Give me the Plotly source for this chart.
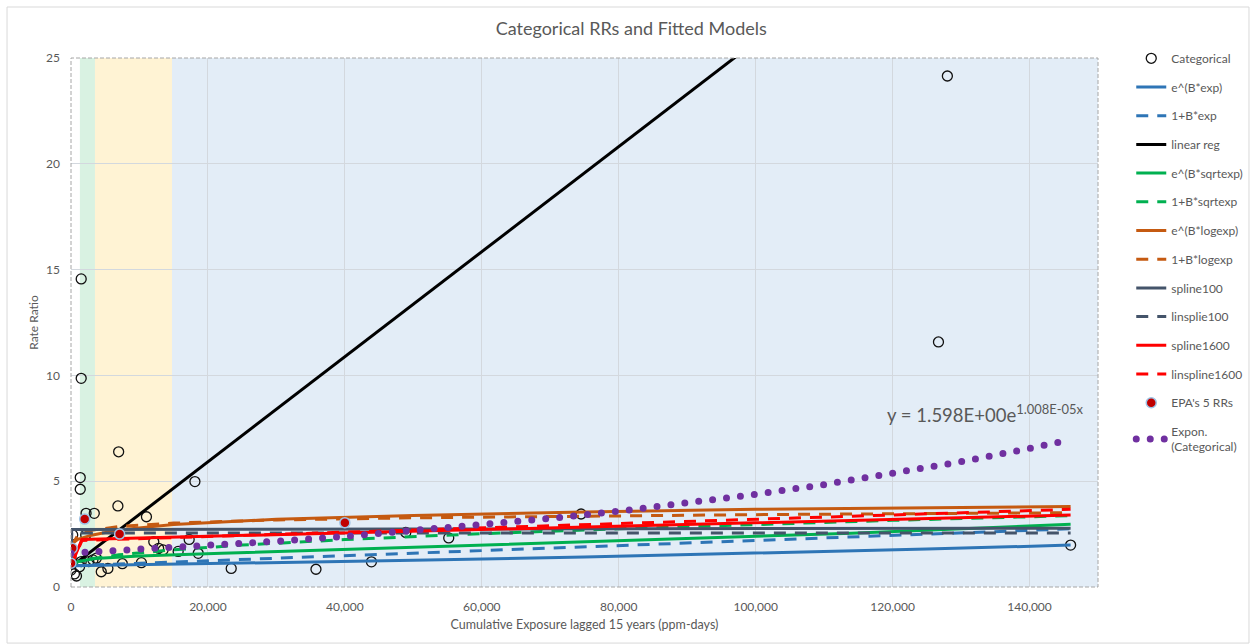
import plotly.graph_objects as go

# ---------------- data ----------------
cat_x = [1490, 1490, 1350, 1350, 6960, 6850, 11020, 18100, 2200, 3400,
         250, 2150, 12090, 17260, 13450, 12800, 15650, 18580, 0, 0, 0, 500,
         1250, 2600, 3700, 4420, 5390, 7500, 10280, 23400, 35780, 43880,
         48900, 55170, 74500, 146000, 128000, 126700, 1500, 3200, 800, 0]
cat_y = [14.56, 9.86, 5.17, 4.62, 6.39, 3.83, 3.32, 4.98, 3.48, 3.48,
         2.46, 2.46, 2.14, 2.25, 1.75, 1.83, 1.68, 1.59, 1.83, 1.36, 0.80, 0.62,
         0.96, 1.20, 1.36, 0.72, 0.88, 1.10, 1.15, 0.88, 0.84, 1.19,
         2.58, 2.32, 3.45, 1.98, 24.15, 11.58, 1.20, 1.28, 0.52, 1.09]

e_exp_x = [0, 25000, 50000, 75000, 100000, 125000, 146000]
e_exp_y = [1.00, 1.12, 1.26, 1.42, 1.60, 1.79, 1.98]

lin_exp_x = [0, 146000]
lin_exp_y = [1.00, 2.75]

linreg_x = [0, 146000]
linreg_y = [0.95, 37.2]

e_sqrt_x = [0, 1000, 3500, 10000, 22000, 51000, 80000, 114000, 146000]
e_sqrt_y = [1.00, 1.20, 1.35, 1.47, 1.59, 1.90, 2.20, 2.54, 2.96]

lin_sqrt_x = [0, 1000, 3000, 7000, 15000, 25000, 40000, 60000, 80000, 100000, 120000, 146000]
lin_sqrt_y = [1.00, 1.20, 1.34, 1.52, 1.76, 1.98, 2.24, 2.52, 2.75, 2.96, 3.15, 3.37]

e_log_x = [0, 1000, 3000, 7000, 15000, 30000, 50000, 75000, 100000, 125000, 146000]
e_log_y = [2.00, 2.25, 2.45, 2.70, 2.95, 3.20, 3.38, 3.55, 3.67, 3.75, 3.80]

lin_log_x = [0, 1000, 3000, 7000, 15000, 30000, 50000, 75000, 100000, 125000, 146000]
lin_log_y = [1.90, 2.45, 2.68, 2.86, 3.02, 3.17, 3.27, 3.36, 3.42, 3.47, 3.51]

spl100_x = [0, 100, 50000, 100000, 146000]
spl100_y = [1.00, 2.72, 2.74, 2.76, 2.78]

linspl100_x = [0, 100, 146000]
linspl100_y = [1.00, 2.55, 2.55]

spl1600_x = [0, 1600, 146000]
spl1600_y = [1.00, 2.25, 3.40]

linspl1600_x = [0, 1600, 146000]
linspl1600_y = [1.00, 2.20, 3.67]

epa_x = [0, 175, 2000, 7100, 40000]
epa_y = [1.12, 1.83, 3.21, 2.50, 3.04]

trend_x = [0, 10000, 20000, 30000, 40000, 50000, 60000, 70000, 80000, 90000,
           100000, 110000, 120000, 130000, 140000, 146000]
trend_y = [1.60, 1.77, 1.95, 2.16, 2.39, 2.65, 2.93, 3.24, 3.58, 3.96,
           4.38, 4.84, 5.36, 5.92, 6.55, 6.96]

bands = [(1300, 3500, "#d9f2e2"), (3500, 14750, "#fff3d4"), (14750, 150000, "#e3edf7")]

# ---------------- figure ----------------
FONT = "Lato"
GRAY = "#595959"

fig = go.Figure()

def add(name, x, y, color, dash="solid", width=3):
    fig.add_trace(go.Scatter(x=x, y=y, mode="lines", name=name,
                             line=dict(color=color, width=width, dash=dash),
                             legendgroup=name))

fig.add_trace(go.Scatter(x=cat_x, y=cat_y, mode="markers", name="Categorical",
                         marker=dict(symbol="circle-open", size=10, color="#111111",
                                     line=dict(width=1.3, color="#111111")),
                         legendgroup="Categorical"))
DASH = "12px,9px"
add("e^(B*exp)", e_exp_x, e_exp_y, "#2E75B6")
add("1+B*exp", lin_exp_x, lin_exp_y, "#2E75B6", DASH)
add("linear reg", linreg_x, linreg_y, "#000000")
add("e^(B*sqrtexp)", e_sqrt_x, e_sqrt_y, "#00B050")
add("1+B*sqrtexp", lin_sqrt_x, lin_sqrt_y, "#00B050", DASH)
add("e^(B*logexp)", e_log_x, e_log_y, "#C55A11")
add("1+B*logexp", lin_log_x, lin_log_y, "#C55A11", DASH)
add("spline100", spl100_x, spl100_y, "#44546A")
add("linsplie100", linspl100_x, linspl100_y, "#44546A", DASH)
add("spline1600", spl1600_x, spl1600_y, "#FF0000")
add("linspline1600", linspl1600_x, linspl1600_y, "#FF0000", DASH)
fig.add_trace(go.Scatter(x=epa_x, y=epa_y, mode="markers", name="EPA's 5 RRs",
                         marker=dict(symbol="circle", size=10, color="#C00000",
                                     line=dict(width=1.5, color="#9DC3E6")),
                         legendgroup="EPA"))
fig.add_trace(go.Scatter(x=trend_x, y=trend_y, mode="lines", name="Expon.<br>(Categorical)",
                         line=dict(color="#7030A0", width=7, dash="7px,7px"),
                         legendgroup="trend"))

shapes = []
for x0, x1, c in bands:
    shapes.append(dict(type="rect", xref="x", yref="paper", x0=x0, x1=x1, y0=0, y1=1,
                       fillcolor=c, line=dict(width=0), layer="below"))
shapes.append(dict(type="rect", xref="paper", yref="paper", x0=0, x1=1, y0=0, y1=1,
                   line=dict(color="#A6A6A6", width=1, dash="4px,2px"), layer="above"))
shapes.append(dict(type="rect", xref="paper", yref="paper", x0=-0.0623, x1=1.147,
                   y0=-0.106, y1=1.0964, line=dict(color="#D9D9D9", width=1), layer="below"))

fig.update_layout(
    width=1250, height=644,
    margin=dict(l=71, r=152, t=58, b=57),
    paper_bgcolor="white", plot_bgcolor="white",
    font=dict(family=FONT, color=GRAY, size=12),
    title=dict(text="Categorical RRs and Fitted Models", x=0.505, xanchor="center",
               y=0.955, yanchor="middle", font=dict(size=18, color=GRAY, family=FONT)),
    shapes=shapes,
    showlegend=True,
    legend=dict(xref="container", yref="container", x=0.905, xanchor="left",
                y=0.932, yanchor="top", tracegroupgap=9.7, maxheight=620,
                font=dict(size=12, color=GRAY, family=FONT), bgcolor="rgba(0,0,0,0)"),
    annotations=[dict(x=118900, y=8.18, xref="x", yref="y", xanchor="left", yanchor="middle",
                      text="y = 1.598E+00e<sup>1.008E-05x</sup>", showarrow=False,
                      font=dict(size=18.5, color=GRAY, family=FONT))],
)
fig.update_xaxes(range=[0, 150000], tickvals=[0, 20000, 40000, 60000, 80000, 100000, 120000, 140000],
                 tickformat=",", showgrid=True, gridcolor="#D3D8DE", gridwidth=1,
                 zeroline=False, showline=False, ticks="", ticklabelstandoff=11,
                 automargin=False,
                 tickfont=dict(size=12, color=GRAY),
                 title=dict(text="Cumulative Exposure lagged 15 years (ppm-days)",
                            font=dict(size=12.5, color=GRAY), standoff=7))
fig.update_yaxes(range=[0, 25], tickvals=[0, 5, 10, 15, 20, 25], showgrid=True,
                 gridcolor="#D3D8DE", gridwidth=1, zeroline=False, showline=False, ticks="",
                 automargin=False,
                 ticklabelstandoff=10, tickfont=dict(size=12, color=GRAY),
                 title=dict(text="Rate Ratio", font=dict(size=12, color=GRAY), standoff=4))

post = """
document.body.style.margin = '0';
document.body.style.overflow = 'hidden';
var gd = document.getElementById('{plot_id}');
function fixDots(){
  gd.querySelectorAll('path.js-line').forEach(function(p){
    var s = p.style.stroke || '';
    if (s.indexOf('112, 48, 160') >= 0) {
      p.style.strokeLinecap = 'round';
      p.style.strokeDasharray = '0px,14px';
    }
  });
}
fixDots();
if (gd.on) { gd.on('plotly_afterplot', fixDots); }
"""
fig.write_html("out.html", post_script=post, config={"displayModeBar": False})
